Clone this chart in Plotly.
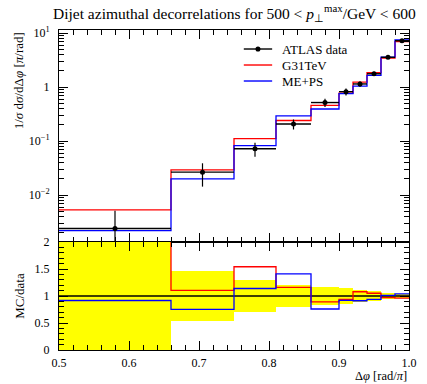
import numpy as np
import plotly.graph_objects as go

# ---------------- data ----------------
bin_edges = [0.5, 0.66, 0.75, 0.81, 0.86, 0.90, 0.92, 0.94, 0.96, 0.98, 1.0]
atlas_data = [0.0024, 0.0265, 0.072, 0.207, 0.516, 0.82, 1.14, 1.76, 3.55, 7.2]
atlas_rel_err = [1.13, 0.46, 0.29, 0.21, 0.17, 0.15, 0.11, 0.09, 0.06, 0.04]
g31tev = [0.0053, 0.0293, 0.111, 0.240, 0.459, 0.77, 1.23, 1.85, 3.44, 6.91]
meps = [0.0022, 0.0199, 0.082, 0.292, 0.392, 0.754, 1.04, 1.65, 3.59, 7.49]

series_names = ["ATLAS data", "G31TeV", "ME+PS"]
top_tickvals = [0.01, 0.1, 1, 10]
top_ticktext = ["10<sup>−2</sup>", "10<sup>−1</sup>", "1", "10<sup>1</sup>"]
ratio_tickvals = [0, 0.5, 1, 1.5, 2]
ratio_ticktext = ["0", "0.5", "1", "1.5", "2"]
x_tickvals = [0.5, 0.6, 0.7, 0.8, 0.9, 1.0]
x_ticktext = ["0.5", "0.6", "0.7", "0.8", "0.9", "1.0"]

# ---------------- derived ----------------
edges = np.array(bin_edges)
centers = 0.5 * (edges[:-1] + edges[1:])
half_w = 0.5 * (edges[1:] - edges[:-1])
widths = edges[1:] - edges[:-1]
d = np.array(atlas_data)
rel = np.array(atlas_rel_err)
abs_err = d * rel
abs_err_minus = np.minimum(abs_err, d * 0.999)
r_g31 = np.array(g31tev) / d
r_meps = np.array(meps) / d

def step(vals):
    v = list(vals)
    return list(edges), v + [v[-1]]

FONT = "Liberation Serif"
RED = "#ff0000"
BLUE = "#0000ff"
colors = ["black", RED, BLUE]

fig = go.Figure()

# top panel
xs, ys = step(g31tev)
fig.add_trace(go.Scatter(x=xs, y=ys, mode="lines", line=dict(color=RED, width=1.3, shape="hv"),
                         name=series_names[1], showlegend=False, xaxis="x", yaxis="y"))
xs, ys = step(meps)
fig.add_trace(go.Scatter(x=xs, y=ys, mode="lines", line=dict(color=BLUE, width=1.3, shape="hv"),
                         name=series_names[2], showlegend=False, xaxis="x", yaxis="y"))
fig.add_trace(go.Scatter(
    x=centers, y=d, mode="markers", name=series_names[0],
    marker=dict(color="black", size=5),
    error_x=dict(type="data", array=half_w, color="black", thickness=1.4, width=0),
    error_y=dict(type="data", array=abs_err, arrayminus=abs_err_minus, color="black", thickness=1.2, width=0),
    showlegend=False, xaxis="x", yaxis="y"))

# ratio panel
fig.add_trace(go.Bar(x=centers, y=2 * rel, base=1 - rel, width=widths,
                     marker=dict(color="#ffff00", line=dict(width=0)),
                     showlegend=False, xaxis="x2", yaxis="y2"))
fig.add_trace(go.Scatter(x=[edges[0], edges[-1]], y=[1, 1], mode="lines",
                         line=dict(color="black", width=1.5), showlegend=False, xaxis="x2", yaxis="y2"))
xs, ys = step(r_g31)
fig.add_trace(go.Scatter(x=xs, y=ys, mode="lines", line=dict(color=RED, width=1.3, shape="hv"),
                         showlegend=False, xaxis="x2", yaxis="y2"))
xs, ys = step(r_meps)
fig.add_trace(go.Scatter(x=xs, y=ys, mode="lines", line=dict(color=BLUE, width=1.3, shape="hv"),
                         showlegend=False, xaxis="x2", yaxis="y2"))

axis_common = dict(showline=True, linecolor="black", linewidth=1, mirror="allticks",
                   ticks="inside", ticklen=9, tickcolor="black", tickwidth=1,
                   showgrid=False, zeroline=False,
                   tickfont=dict(family=FONT, size=12, color="black"))

split = 0.3375

# manual legend (paper coordinates)
leg_x0, leg_x1, leg_tx = 0.528, 0.609, 0.631
leg_rows = [0.9406, 0.8906, 0.8406]
shapes = []
annotations = []
for name, col, yy in zip(series_names, colors, leg_rows):
    shapes.append(dict(type="line", xref="paper", yref="paper", x0=leg_x0, x1=leg_x1, y0=yy, y1=yy,
                       line=dict(color=col, width=1.4)))
    annotations.append(dict(text=name, x=leg_tx, y=yy, xref="paper", yref="paper",
                            xanchor="left", yanchor="middle", showarrow=False,
                            font=dict(family=FONT, size=13, color="black")))
xc = 0.5 * (leg_x0 + leg_x1)
shapes.append(dict(type="circle", xref="paper", yref="paper",
                   x0=xc - 0.0072, x1=xc + 0.0072, y0=leg_rows[0] - 0.008, y1=leg_rows[0] + 0.008,
                   fillcolor="black", line=dict(color="black", width=0)))

annotations += [
    dict(text="Dijet azimuthal decorrelations for 500 &lt; <i>p</i><sub>⊥</sub><sup>max</sup>/GeV &lt; 600",
         x=0.5, y=1.053, xref="paper", yref="paper", xanchor="center", yanchor="middle",
         showarrow=False, font=dict(family=FONT, size=15.5, color="black")),
    dict(text="1/<i>σ</i> d<i>σ</i>/dΔ<i>φ</i> [<i>π</i>/rad]", textangle=-90,
         x=-0.115, y=1.0, xref="paper", yref="paper", xanchor="center", yanchor="top",
         showarrow=False, font=dict(family=FONT, size=13, color="black")),
    dict(text="MC/data", textangle=-90,
         x=-0.115, y=split / 2, xref="paper", yref="paper", xanchor="center", yanchor="middle",
         showarrow=False, font=dict(family=FONT, size=13, color="black")),
    dict(text="Δ<i>φ</i> [rad/<i>π</i>]",
         x=1.0, y=-0.081, xref="paper", yref="paper", xanchor="right", yanchor="middle",
         showarrow=False, font=dict(family=FONT, size=12.5, color="black")),
]

fig.update_layout(
    width=427, height=384,
    margin=dict(l=59, r=10, t=30, b=34),
    paper_bgcolor="white", plot_bgcolor="white",
    barmode="overlay", bargap=0, showlegend=False,
    font=dict(family=FONT, size=12, color="black"),
    xaxis=dict(axis_common, domain=[0, 1], range=[0.5, 1.0], anchor="y", showticklabels=False,
               tickvals=x_tickvals, matches="x2",
               minor=dict(ticks="inside", ticklen=5, dtick=0.02, tick0=0.5, tickcolor="black")),
    yaxis=dict(axis_common, domain=[split, 1], type="log", range=[-2.87, 1.056], anchor="x",
               tickmode="array", tickvals=top_tickvals, ticktext=top_ticktext, ticklabelstandoff=6,
               minor=dict(ticks="inside", ticklen=5, dtick="D1", tickcolor="black")),
    xaxis2=dict(axis_common, domain=[0, 1], range=[0.5, 1.0], anchor="y2",
                tickmode="array", tickvals=x_tickvals, ticktext=x_ticktext, ticklabelstandoff=2,
                minor=dict(ticks="inside", ticklen=5, dtick=0.02, tick0=0.5, tickcolor="black")),
    yaxis2=dict(axis_common, domain=[0, split], range=[0, 2], anchor="x2",
                tickmode="array", tickvals=ratio_tickvals, ticktext=ratio_ticktext, ticklabelstandoff=6,
                minor=dict(ticks="inside", ticklen=5, dtick=0.1, tick0=0, tickcolor="black")),
    shapes=shapes,
    annotations=annotations,
)

fig.write_html("out.html")
